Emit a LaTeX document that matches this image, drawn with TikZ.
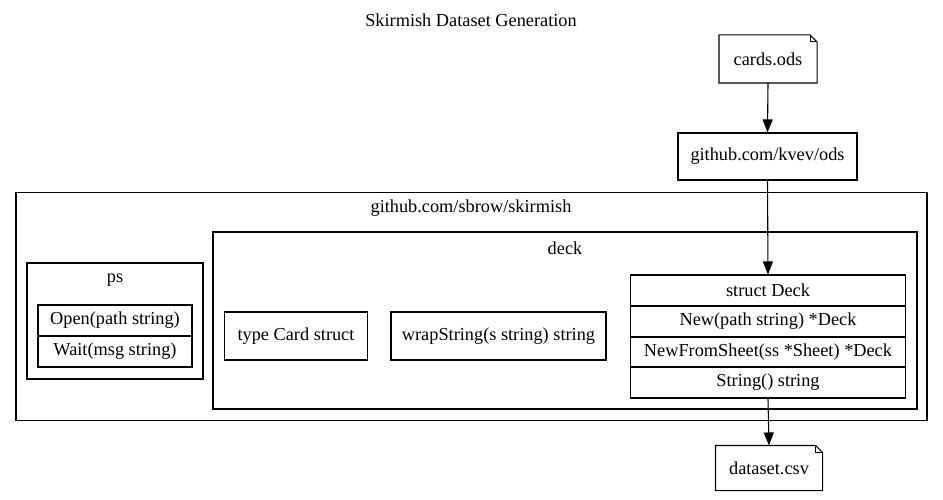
\documentclass[tikz,border=0pt]{standalone}
\usepackage{fontspec}
\setmainfont{Liberation Serif}
\usetikzlibrary{arrows.meta}
\begin{document}
\begin{tikzpicture}[x=1pt,y=-1pt,
  font=\fontsize{18.3}{21}\selectfont,
  line width=1.1pt,
  box/.style={draw, rectangle, inner sep=0pt},
  plain/.style={draw=none, inner sep=0pt},
  label/.style={inner sep=0pt},
  edge/.style={-{Triangle[length=13pt,width=10pt]}, line width=1.1pt}]
\useasboundingbox (0,0) rectangle (943,500);

\node[label] (title) at (471,20) {Skirmish Dataset Generation};

% clusters
\node[box, minimum width=911pt, minimum height=228pt] (skirmish) at (471.5,306.5) {};
\node[label] (skirmishlbl) at (471,208) {github.com/sbrow/skirmish};
\node[box, minimum width=704pt, minimum height=177pt] (deck) at (565,320.5) {};
\node[label] (decklbl) at (565,248) {deck};
\node[box, minimum width=176pt, minimum height=116pt] (ps) at (115,321) {};
\node[label] (pslbl) at (115,280) {ps};

% ps record
\node[box, minimum width=154pt, minimum height=31pt] (psopen) at (115,320.5) {Open(path string)};
\node[box, minimum width=154pt, minimum height=31pt] (pswait) at (115,351.5) {Wait(msg string)};

% deck contents
\node[box, minimum width=143pt, minimum height=48pt] (card) at (296,336) {type Card struct};
\node[box, minimum width=215pt, minimum height=48pt] (wrap) at (498.5,336) {wrapString(s string) string};
\node[box, minimum width=275pt, minimum height=31pt] (deckA) at (768,290.5) {struct Deck};
\node[box, minimum width=275pt, minimum height=31pt] (deckB) at (768,321.5) {New(path string) *Deck};
\node[box, minimum width=275pt, minimum height=30pt] (deckC) at (768,352) {NewFromSheet(ss *Sheet) *Deck};
\node[box, minimum width=275pt, minimum height=31pt] (deckD) at (768,382.5) {String() string};

% ods
\node[box, minimum width=179pt, minimum height=47pt] (ods) at (767.5,156.5) {github.com/kvev/ods};

% notes
\node[plain, minimum width=97pt, minimum height=47pt] (cards) at (768,59) {cards.ods};
\node[plain, minimum width=106pt, minimum height=44pt] (dataset) at (769,468) {dataset.csv};
\foreach \n in {cards,dataset}{
  \draw (\n.south west) -- (\n.north west) -- ([xshift=-7pt]\n.north east)
        -- ([yshift=-7pt]\n.north east) -- (\n.south east) -- cycle;
  \draw ([xshift=-7pt]\n.north east) -- ([xshift=-7pt,yshift=-7pt]\n.north east)
        -- ([yshift=-7pt]\n.north east);
}

% edges
\draw[edge] (cards.south) -- (ods.north);
\draw[edge] (ods.south) -- (deckA.north);
\draw[edge] (deckD.south) -- (dataset.north);
\end{tikzpicture}
\end{document}
